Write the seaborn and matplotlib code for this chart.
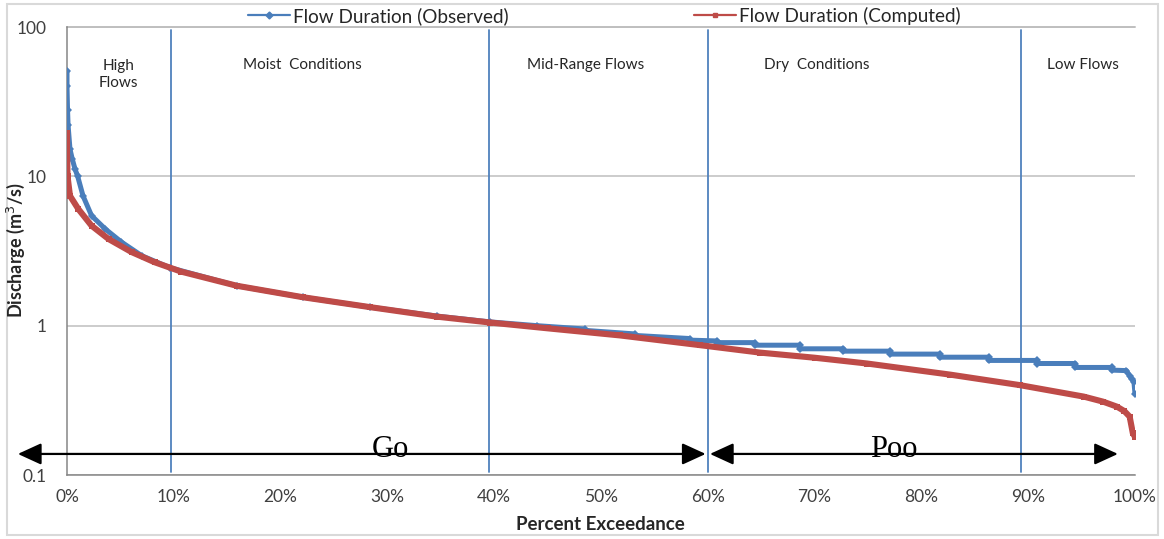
import numpy as np
import pandas as pd
import matplotlib
matplotlib.use("Agg")
import matplotlib.pyplot as plt
import seaborn as sns
from matplotlib.patches import Rectangle
from matplotlib.lines import Line2D

# ---------------- data ----------------
obs_pct = [0, 0, 0.05, 0.1, 0.28, 0.5, 0.75, 1.0, 1.5, 2.3, 3.6, 5.1, 7.0, 9.6,
           15.9, 22.1, 28.4, 34.6, 39.6, 44.0, 48.5, 48.5, 53.2, 53.2, 58.3, 58.3,
           60.9, 60.9, 64.4, 64.4, 68.6, 68.6, 72.7, 72.7, 77.1, 77.1, 81.7, 81.7,
           86.3, 86.3, 90.8, 90.8, 94.4, 94.4, 97.8, 97.8, 99.2, 99.5, 99.7, 99.9, 100]
obs_q = [51, 40, 28, 22, 15.2, 13, 11.2, 10, 7.4, 5.45, 4.43, 3.63, 2.94, 2.45,
         1.85, 1.55, 1.33, 1.16, 1.06, 1.0, 0.95, 0.93, 0.88, 0.86, 0.82, 0.80,
         0.79, 0.77, 0.77, 0.74, 0.74, 0.70, 0.70, 0.675, 0.675, 0.645, 0.645, 0.615,
         0.615, 0.585, 0.585, 0.558, 0.558, 0.525, 0.525, 0.504, 0.50, 0.46, 0.44, 0.42, 0.35]

comp_pct = [0, 0, 0.01, 0.05, 0.28, 1.06, 2.3, 3.9, 6.05, 8.2, 10.7, 15.9, 22.1,
            28.4, 34.6, 39.6, 45.0, 51.8, 59.3, 64.9, 70.0, 74.9, 82.7, 89.2, 95.2,
            97.0, 98.3, 99.0, 99.5, 99.8, 100]
comp_q = [19.5, 14, 13.9, 10, 7.4, 6.04, 4.67, 3.8, 3.11, 2.66, 2.3, 1.85, 1.55,
          1.33, 1.15, 1.05, 0.96, 0.86, 0.74, 0.66, 0.61, 0.558, 0.47, 0.40, 0.335,
          0.31, 0.287, 0.268, 0.246, 0.19, 0.18]

series_names = ["Flow Duration (Observed)", "Flow Duration (Computed)"]
x_ticks = [0, 10, 20, 30, 40, 50, 60, 70, 80, 90, 100]
x_tick_labels = ["0%", "10%", "20%", "30%", "40%", "50%", "60%", "70%", "80%", "90%", "100%"]
y_ticks = [0.1, 1, 10, 100]
y_tick_labels = ["0.1", "1", "10", "100"]

zone_bounds = [9.7, 39.5, 60.0, 89.3]
zone_labels = ["High\nFlows", "Moist  Conditions", "Mid-Range Flows", "Dry  Conditions", "Low Flows"]
zone_label_x = [4.8, 22.0, 48.6, 70.2, 95.1]

arrow_labels = ["Go", "Poo"]
arrow_label_x = [30.3, 77.4]

# ---------------- styling ----------------
sns.set_theme(style="white")
plt.rcParams["font.family"] = ["Lato", "DejaVu Sans"]

BLUE = "#4A7EBB"
RED = "#BE4B48"
LINE_BLUE = "#4F81BD"
TXT = "#262626"

W, H = 1164, 539
fig = plt.figure(figsize=(W / 100, H / 100), dpi=100)
ax = fig.add_axes([67 / W, 64 / H, (1135 - 67) / W, (475 - 27) / H])

df_obs = pd.DataFrame({"pct": obs_pct, "q": obs_q})
df_comp = pd.DataFrame({"pct": comp_pct, "q": comp_q})

sns.lineplot(data=df_obs, x="pct", y="q", ax=ax, color=BLUE, lw=3.6,
             marker="D", markersize=3.6, markeredgewidth=0, estimator=None,
             sort=False, label=series_names[0], zorder=3)
sns.lineplot(data=df_comp, x="pct", y="q", ax=ax, color=RED, lw=4.4,
             marker="s", markersize=3.8, markeredgewidth=0, estimator=None,
             sort=False, label=series_names[1], zorder=4)

ax.set_yscale("log")
ax.set_ylim(0.1, 100)
ax.set_xlim(0, 100)
ax.set_xticks(x_ticks)
ax.set_xticklabels(x_tick_labels)
ax.set_yticks(y_ticks)
ax.set_yticklabels(y_tick_labels)
ax.yaxis.set_minor_locator(matplotlib.ticker.NullLocator())
ax.tick_params(axis="both", length=0, labelsize=12.5, colors="#404040")
ax.tick_params(axis="y", pad=15)
ax.tick_params(axis="x", pad=10)
ax.set_xlabel("")
ax.set_ylabel("")

ax.grid(axis="y", color="#BFBFBF", lw=1.1)
ax.grid(axis="x", visible=False)
for s in ["top", "right"]:
    ax.spines[s].set_visible(False)
for s in ["left", "bottom"]:
    ax.spines[s].set_color("#868686")
    ax.spines[s].set_linewidth(1.1)
ax.axhline(100, color="#BFBFBF", lw=1.4, clip_on=False, zorder=1)

# zone boundary lines
for xb in zone_bounds:
    ax.axvline(xb, ymin=0.007, ymax=0.993, color=LINE_BLUE, lw=1.3, zorder=2)

# zone labels
for lab, xl in zip(zone_labels, zone_label_x):
    ax.text(xl, 0.915 if "\n" not in lab else 0.894, lab,
            transform=ax.get_xaxis_transform(), ha="center", va="center",
            fontsize=11, color=TXT, linespacing=1.35)

# arrows
trans = ax.get_xaxis_transform()
arrow_y = 0.047
astyle = "<|-|>,head_length=1.2,head_width=0.55"
ax.annotate("", xy=(-4.6, arrow_y), xytext=(59.8, arrow_y), xycoords=trans,
            textcoords=trans,
            arrowprops=dict(arrowstyle=astyle, color="black", lw=1.6,
                            shrinkA=0, shrinkB=0),
            annotation_clip=False, zorder=6)
ax.annotate("", xy=(60.2, arrow_y), xytext=(98.4, arrow_y), xycoords=trans,
            textcoords=trans,
            arrowprops=dict(arrowstyle=astyle, color="black", lw=1.6,
                            shrinkA=0, shrinkB=0),
            annotation_clip=False, zorder=6)
for lab, xl in zip(arrow_labels, arrow_label_x):
    ax.text(xl, arrow_y - 0.006, lab, transform=trans, ha="center", va="baseline",
            fontsize=22, family=["Liberation Serif", "DejaVu Serif"], color="black",
            zorder=7)

# legend on top (one entry each, placed like the reference)
ax.get_legend().remove()
h1 = Line2D([], [], color=BLUE, lw=1.6, marker="D", markersize=3.5)
h2 = Line2D([], [], color=RED, lw=1.6, marker="s", markersize=3.5)
for h, name, x0 in [(h1, series_names[0], 248), (h2, series_names[1], 694)]:
    fig.legend([h], [name], loc="center left", bbox_to_anchor=(x0 / W, 1 - 16 / H),
               frameon=False, fontsize=13.6, handlelength=2.2, handletextpad=0.2,
               borderpad=0, borderaxespad=0, labelcolor=TXT)

# axis titles
fig.text(16 / W, 1 - 250 / H, "Discharge (m$^3$/s)", rotation=90, ha="center",
         va="center", fontsize=13, fontweight="bold", color=TXT)
fig.text(600 / W, 1 - 524 / H, "Percent Exceedance", ha="center", va="center",
         fontsize=13.5, fontweight="bold", color=TXT)

# outer frame
fig.patches.append(Rectangle((7 / W, 4 / H), (1158 - 7) / W, (535 - 4) / H,
                             transform=fig.transFigure, fill=False,
                             edgecolor="#D9D9D9", lw=1.5))

fig.savefig("out.png", dpi=100)
